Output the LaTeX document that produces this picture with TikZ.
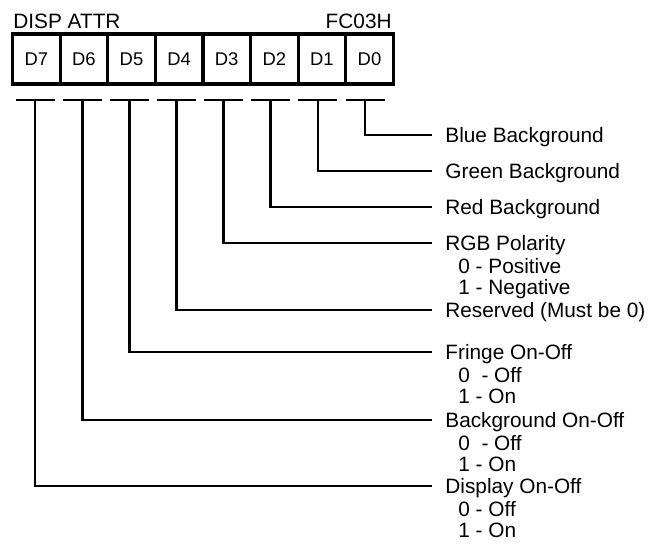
\documentclass[tikz,border=0pt]{standalone}
\usepackage{fontspec}
\setmainfont{Liberation Sans}
\usetikzlibrary{positioning}
\tikzset{
  regmap/.style={x=0.5pt,y=-0.5pt,font=\fontsize{10.4}{10.85}\selectfont},
  bitcell/.style={draw,line width=1.6pt,minimum width=23.8pt,minimum height=25pt,inner sep=0pt,outer sep=0pt,
    font=\fontsize{9.2}{10}\selectfont},
  bitwire/.style={line width=1.4pt},
  bitlbl/.style={anchor=west,inner xsep=6.5pt,inner ysep=0pt,text height=7.45pt,text depth=0pt},
  bitsub/.style={align=left,inner sep=0pt}
}

\begin{document}
\begin{tikzpicture}[regmap]
  \useasboundingbox (0,0) rectangle (663,548);
  \node[bitlbl,inner xsep=0pt] (regname) at (13,21.5) {DISP ATTR};
  \node[bitlbl,inner xsep=0pt,anchor=east] (regaddr) at (392,21.5) {FC03H};
  % bit cells and the T bars under them
  \foreach \b [count=\i from 0] in {7,...,0} {
    \node[bitcell] (d\b) at ({36.3+47.6*\i},59) {D\b};
    \coordinate (bar\b) at ({35+47.15*\i},100);
    \draw[bitwire] ([xshift=-9.75pt]bar\b) -- ([xshift=9.75pt]bar\b);
  }
  \foreach \b/\y/\name/\txt in {0/135/blue/Blue Background, 1/171/green/Green Background,
      2/207/red/Red Background, 3/243/rgb/RGB Polarity, 4/310/rsvd/Reserved (Must be 0),
      5/352/fringe/Fringe On-Off, 6/420/bkgd/Background On-Off, 7/486/disp/Display On-Off} {
    \node[bitlbl] (\name) at (432,\y) {\txt};
    \draw[bitwire] (bar\b) |- (\name.west);
  }
  \node[bitsub,below right=3.45pt and 13pt of rgb.south west] (rgbval) {0 - Positive\\1 - Negative};
  \node[bitsub,below right=3.45pt and 13pt of fringe.south west] (fringeval) {0~~- Off\\1 - On};
  \node[bitsub,below right=3.45pt and 13pt of bkgd.south west] (bkgdval) {0~~- Off\\1 - On};
  \node[bitsub,below right=3.45pt and 13pt of disp.south west] (dispval) {0 - Off\\1 - On};
\end{tikzpicture}
\end{document}
